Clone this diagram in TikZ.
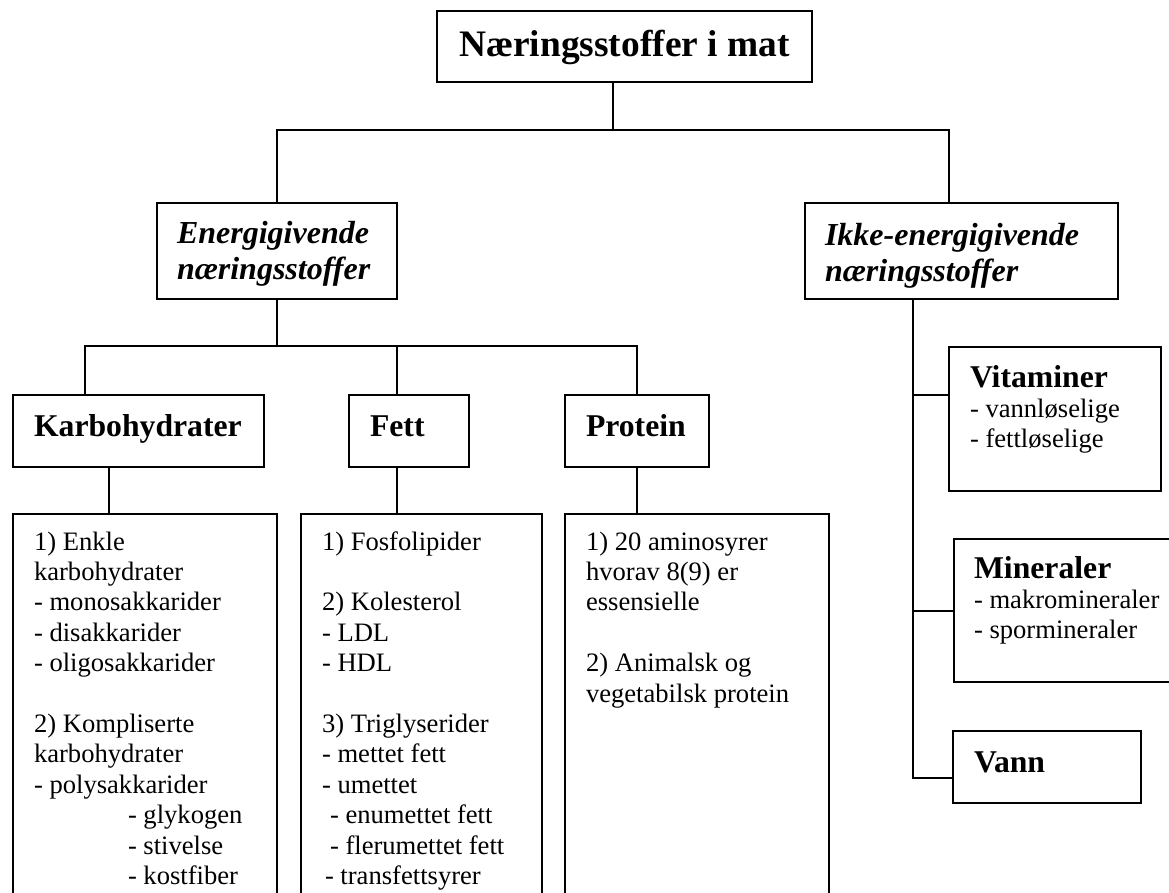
\documentclass[tikz,border=0pt]{standalone}
\usepackage{fontspec}
\setmainfont{Liberation Serif}

% text in a box: width, height, drop to first baseline, lines
\newcommand{\bokstekst}[4]{\parbox[t][#2][t]{#1}{\raggedright\rule{0pt}{#3}#4}}
\newcommand{\tittelfont}{\fontsize{37.4}{43}\selectfont\bfseries}
\newcommand{\gruppefont}{\fontsize{32}{36.7}\selectfont\bfseries\itshape}
\newcommand{\hodefont}{\fontsize{31.7}{36.5}\selectfont\bfseries}

\tikzset{
  boks/.style={draw, line width=1.8pt, anchor=north west, inner xsep=21pt,
    inner ysep=0pt, outer sep=0pt, font=\fontsize{26.6}{30.4}\selectfont},
  linje/.style={line width=1.5pt}
}

\begin{document}
\begin{tikzpicture}[x=1pt, y=-1pt]
			\useasboundingbox (0,0) rectangle (1169,892);

			% Top of the tree
			\node[boks, inner xsep=10pt] (tittel) at (437,11)
				{\bokstekst{355pt}{71pt}{45pt}{\centering\tittelfont N\ae ringsstoffer i mat}};

			% The two main groups
			\node[boks, inner xsep=20pt] (energi) at (157,203)
				{\bokstekst{200pt}{96pt}{40pt}{\gruppefont Energigivende\\n\ae ringsstoffer}};
			\node[boks, inner xsep=20pt] (ikke) at (805,203)
				{\bokstekst{273pt}{96pt}{42pt}{\gruppefont Ikke-energigivende\\n\ae ringsstoffer}};

			% Energy giving nutrients
			\node[boks] (karbo) at (13,395) {\bokstekst{209pt}{72pt}{41pt}{\hodefont Karbohydrater}};
			\node[boks] (fett) at (349,395) {\bokstekst{78pt}{72pt}{41pt}{\hodefont Fett}};
			\node[boks] (protein) at (565,395) {\bokstekst{102pt}{72pt}{41pt}{\hodefont Protein}};

			\node[boks] (karboliste) at (13,514) {\bokstekst{222pt}{400pt}{36pt}{1) Enkle\\karbohydrater\\- monosakkarider\\- disakkarider\\- oligosakkarider\\[30.4pt]2) Kompliserte\\karbohydrater\\- polysakkarider\\\hspace*{94pt}- glykogen\\\hspace*{94pt}- stivelse\\\hspace*{94pt}- kostfiber}};
			\node[boks] (fettliste) at (301,514) {\bokstekst{199pt}{400pt}{36pt}{1) Fosfolipider\\[30.4pt]2) Kolesterol\\- LDL\\- HDL\\[30.4pt]3) Triglyserider\\- mettet fett\\- umettet\\\hspace*{8pt}- enumettet fett\\\hspace*{8pt}- flerumettet fett\\\hspace*{3pt}- transfettsyrer}};
			\node[boks] (proteinliste) at (565,514) {\bokstekst{222pt}{400pt}{36pt}{1) 20 aminosyrer\\hvorav 8(9) er\\essensielle\\[30.4pt]2) Animalsk og\\vegetabilsk protein}};

			% Non energy giving nutrients
			\node[boks] (vitaminer) at (949,347) {\bokstekst{170pt}{144pt}{40pt}{{\hodefont Vitaminer}\\- vannl\o selige\\- fettl\o selige}};
			\node[boks, inner xsep=20pt] (mineraler) at (954,539) {\bokstekst{200pt}{143pt}{39pt}{{\hodefont Mineraler}\\- makromineraler\\- spormineraler}};
			\node[boks] (vann) at (953,731) {\bokstekst{146pt}{72pt}{41pt}{\hodefont Vann}};

			% Junction points of the tree
			\coordinate (t1) at (613,130);
			\coordinate (j1) at (949,130);
			\coordinate (k1) at (85,346);
			\coordinate (f1) at (397,346);
			\coordinate (p1) at (637,346);
			\coordinate (k2) at (109,480);
			\coordinate (i1) at (913,395);
			\coordinate (i2) at (913,611);
			\coordinate (i3) at (913,778);

			% draw the connectors
			\draw[linje] (tittel.south -| t1) -- (t1);
			\draw[linje] (energi.north) |- (j1) -- (j1 |- ikke.north);

			\draw[linje] (energi.south) -- (energi.south |- k1);
			\draw[linje] (k1 |- karbo.north) |- (p1) -- (p1 |- protein.north);
			\draw[linje] (f1) -- (f1 |- fett.north);

			\draw[linje] (karbo.south -| k2) -- (karboliste.north -| k2);
			\draw[linje] (fett.south -| f1) -- (fettliste.north -| f1);
			\draw[linje] (protein.south) -- (proteinliste.north -| protein.south);

			\draw[linje] (ikke.south -| i3) -- (i3) -- (i3 -| vann.west);
			\draw[linje] (i1) -- (i1 -| vitaminer.west);
			\draw[linje] (i2) -- (i2 -| mineraler.west);

\end{tikzpicture}
\end{document}
